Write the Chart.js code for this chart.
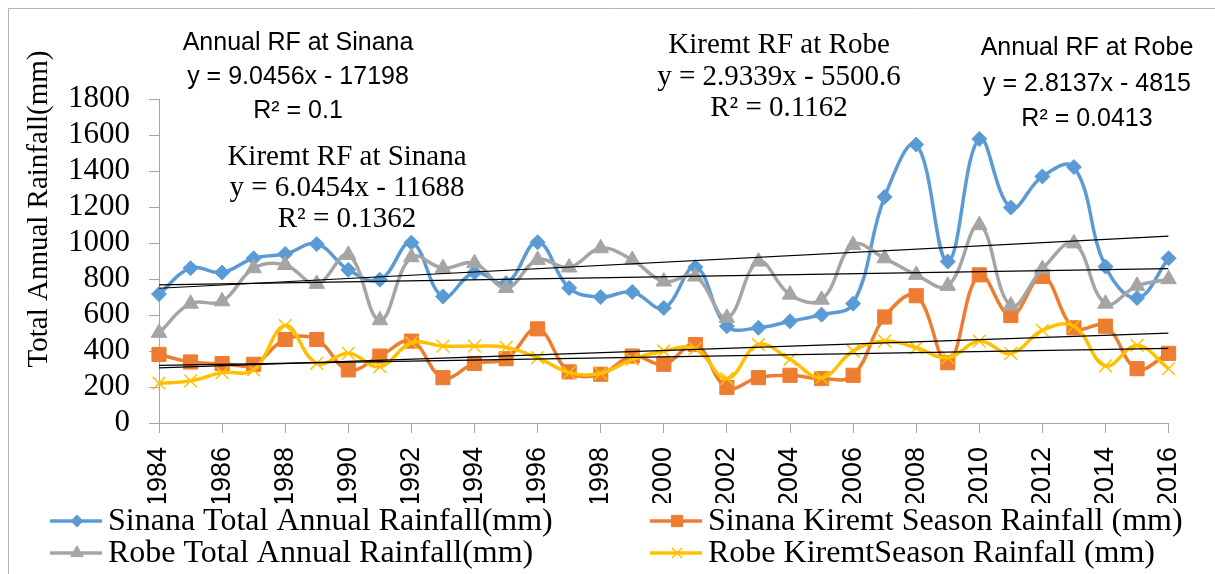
<!DOCTYPE html>
<html>
<head>
<meta charset="utf-8">
<title>Rainfall trends at Sinana and Robe</title>
<script src="https://cdn.jsdelivr.net/npm/chart.js@4.4.0/dist/chart.umd.min.js"></script>
<style>
  html, body { margin: 0; padding: 0; background: #fff; }
</style>
</head>
<body>
<canvas id="rainfall" width="1215" height="574"></canvas>
<script>
const years = [1984, 1985, 1986, 1987, 1988, 1989, 1990, 1991, 1992, 1993, 1994,
  1995, 1996, 1997, 1998, 1999, 2000, 2001, 2002, 2003, 2004, 2005, 2006, 2007,
  2008, 2009, 2010, 2011, 2012, 2013, 2014, 2015, 2016];

const sinanaAnnual = [716, 860, 836, 915, 939, 994, 851, 796, 1002, 703, 836, 777, 1004,
  750, 700, 728, 639, 866, 538, 529, 565, 602, 663, 1256, 1547, 897, 1578, 1197, 1370,
  1422, 869, 694, 915];
const sinanaKiremt = [381, 339, 330, 326, 464, 464, 295, 372, 455, 252, 331, 357, 523,
  284, 271, 372, 326, 436, 197, 252, 265, 247, 265, 589, 707, 335, 823, 597, 814, 529,
  538, 302, 387];
const robeAnnual = [501, 663, 676, 860, 878, 773, 934, 571, 921, 860, 888, 750, 906, 864,
  971, 906, 786, 814, 584, 897, 713, 685, 989, 915, 823, 762, 1099, 652, 855, 998, 663,
  762, 799];
const robeKiremt = [221, 234, 280, 295, 541, 331, 387, 313, 446, 427, 427, 420, 363, 280,
  276, 354, 400, 413, 247, 436, 354, 252, 400, 455, 418, 363, 455, 387, 515, 538, 317,
  431, 302];

// linear trend fits: [slope, intercept, R²]
const fitSinanaAnnual = [9.0456, -17198, 0.1];
const fitSinanaKiremt = [6.0454, -11688, 0.1362];
const fitRobeAnnual = [2.8137, -4815, 0.0413];
const fitRobeKiremt = [2.9339, -5500.6, 0.1162];

const yTicks = [0, 200, 400, 600, 800, 1000, 1200, 1400, 1600, 1800];

const serif = '"Liberation Serif", "Times New Roman", serif';
const sans = '"Liberation Sans", Arial, sans-serif';

function pts(vals) {
  return years.map((y, i) => ({ x: y, y: vals[i] }));
}
function trend(fit) {
  const a = years[0], b = years[years.length - 1];
  return [{ x: a, y: fit[0] * a + fit[1] }, { x: b, y: fit[0] * b + fit[1] }];
}
function series(label, vals, color, style, radius, order) {
  return {
    label: label,
    data: pts(vals),
    borderColor: color,
    backgroundColor: color,
    borderWidth: 3.5,
    tension: 0.4,
    pointStyle: style,
    pointRadius: radius,
    pointBorderWidth: style === 'crossRot' ? 1.5 : 1,
    pointBackgroundColor: color,
    pointBorderColor: color,
    clip: false,
    order: order
  };
}
function trendLine(fit) {
  return {
    label: 'trend',
    data: trend(fit),
    borderColor: '#000',
    borderWidth: 1.2,
    pointRadius: 0,
    tension: 0,
    order: 0
  };
}

const datasets = [
  series('Sinana Total Annual Rainfall(mm)', sinanaAnnual, '#5b9bd5', 'rectRot', 7.5, 5),
  series('Sinana Kiremt Season Rainfall (mm)', sinanaKiremt, '#ed7d31', 'rect', 10, 4),
  series('Robe Total Annual Rainfall(mm)', robeAnnual, '#a5a5a5', 'triangle', 9, 3),
  series('Robe KiremtSeason Rainfall (mm)', robeKiremt, '#ffc000', 'crossRot', 9, 2),
  trendLine(fitSinanaAnnual),
  trendLine(fitSinanaKiremt),
  trendLine(fitRobeAnnual),
  trendLine(fitRobeKiremt)
];

function fmtFit(fit) {
  const sign = fit[1] < 0 ? ' - ' : ' + ';
  return ['y = ' + fit[0] + 'x' + sign + Math.abs(fit[1]), 'R\u00b2 = ' + fit[2]];
}

// trendline equation boxes
const notes = [
  { title: 'Annual RF at Sinana', fit: fitSinanaAnnual, x: 298, y: [43, 77, 111], font: '25px ' + sans },
  { title: 'Kiremt RF at Sinana', fit: fitSinanaKiremt, x: 347, y: [157, 188, 219], font: '29px ' + serif },
  { title: 'Kiremt RF at Robe', fit: fitRobeKiremt, x: 779, y: [45, 77, 108], font: '29px ' + serif },
  { title: 'Annual RF at Robe', fit: fitRobeAnnual, x: 1087, y: [48, 84, 119], font: '25px ' + sans }
];

// two-column legend underneath the axis
const legendSlots = [
  { x: 50, y: 521 }, { x: 650, y: 521 }, { x: 50, y: 553 }, { x: 650, y: 553 }
];

const decor = {
  id: 'decor',
  beforeDraw(chart) {
    const ctx = chart.ctx;
    ctx.save();
    ctx.strokeStyle = '#b4b4b4';
    ctx.lineWidth = 1;
    ctx.beginPath();
    ctx.moveTo(8.5, 574);
    ctx.lineTo(8.5, 8.5);
    ctx.lineTo(1215, 8.5);
    ctx.stroke();
    ctx.restore();
  },
  afterDraw(chart) {
    const ctx = chart.ctx;
    ctx.save();
    ctx.fillStyle = '#000';

    // y axis title
    ctx.save();
    ctx.translate(47, 209);
    ctx.rotate(-Math.PI / 2);
    ctx.font = '29px ' + serif;
    ctx.textAlign = 'center';
    ctx.textBaseline = 'alphabetic';
    ctx.fillText('Total Annual Rainfall(mm)', 0, 0);
    ctx.restore();

    ctx.textAlign = 'center';
    ctx.textBaseline = 'middle';
    notes.forEach(n => {
      const lines = [n.title].concat(fmtFit(n.fit));
      ctx.font = n.font;
      lines.forEach((t, i) => ctx.fillText(t, n.x, n.y[i]));
    });

    ctx.textAlign = 'left';
    ctx.font = '32px ' + serif;
    chart.data.datasets.slice(0, 4).forEach((ds, i) => {
      const s = legendSlots[i];
      ctx.strokeStyle = ds.borderColor;
      ctx.lineWidth = 3.5;
      ctx.beginPath();
      ctx.moveTo(s.x, s.y);
      ctx.lineTo(s.x + 52, s.y);
      ctx.stroke();
      ctx.fillStyle = ds.borderColor;
      ctx.lineWidth = ds.pointBorderWidth;
      Chart.helpers.drawPoint(ctx, {
        pointStyle: ds.pointStyle,
        radius: ds.pointRadius * 0.8,
        rotation: 0,
        borderWidth: ds.pointBorderWidth
      }, s.x + 27, s.y);
      ctx.fillStyle = '#000';
      ctx.fillText(ds.label, s.x + 58, s.y + 1);
    });
    ctx.restore();
  }
};

new Chart(document.getElementById('rainfall'), {
  type: 'line',
  data: { datasets: datasets },
  options: {
    responsive: false,
    animation: false,
    layout: { padding: { left: 68, right: 41, top: 99, bottom: 71 } },
    plugins: {
      legend: { display: false },
      tooltip: { enabled: false }
    },
    scales: {
      x: {
        type: 'linear',
        min: years[0],
        max: years[years.length - 1],
        afterBuildTicks(scale) {
          scale.ticks = years.filter((y, i) => i % 2 === 0).map(v => ({ value: v }));
        },
        afterFit(scale) { scale.height = 80; },
        ticks: {
          autoSkip: false,
          minRotation: 90,
          maxRotation: 90,
          padding: 14,
          color: '#000',
          font: { family: sans, size: 27 },
          callback: v => String(v)
        },
        grid: { drawOnChartArea: false, tickLength: 10, color: '#a6a6a6' },
        border: { color: '#a6a6a6' }
      },
      y: {
        min: 0,
        max: 1800,
        afterBuildTicks(scale) {
          scale.ticks = yTicks.map(v => ({ value: v }));
        },
        afterFit(scale) { scale.width = 91; },
        ticks: {
          autoSkip: false,
          padding: 19,
          color: '#000',
          font: { family: serif, size: 31 },
          callback: v => String(v)
        },
        grid: { drawOnChartArea: false, tickLength: 10, color: '#a6a6a6' },
        border: { color: '#a6a6a6' }
      }
    }
  },
  plugins: [decor]
});
</script>
</body>
</html>
